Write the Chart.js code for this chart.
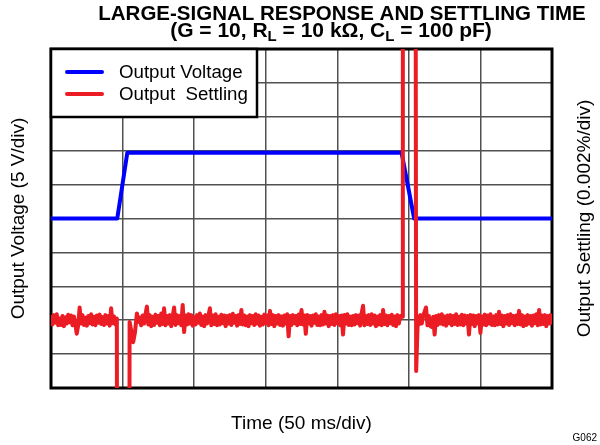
<!DOCTYPE html>
<html>
<head>
<meta charset="utf-8">
<script src="https://cdn.jsdelivr.net/npm/chart.js@4/dist/chart.umd.min.js"></script>
<style>
  html, body { margin: 0; padding: 0; background: #ffffff; }
  #wrap { width: 600px; height: 445px; }
</style>
</head>
<body>
<div id="wrap"><canvas id="c" width="600" height="445"></canvas></div>
<script>
// ---- Data (time in ms, output voltage in V, settling error in ppm; 20 ppm = 0.002 %) ----
const titleLine1 = 'LARGE-SIGNAL RESPONSE AND SETTLING TIME';
const titleLine2 = [
  { t: '(G = 10, R' }, { t: 'L', sub: true }, { t: ' = 10 kΩ, C' }, { t: 'L', sub: true }, { t: ' = 100 pF)' }
];
const seriesNames = ['Output Voltage', 'Output  Settling'];
const xTitle = 'Time (50 ms/div)';
const yLeftTitle = 'Output Voltage (5 V/div)';
const yRightTitle = 'Output Settling (0.002%/div)';
const figureId = 'G062';

const timeRange = [0, 350];        // 7 divisions of 50 ms
const voltRange = [-25, 25];       // 10 divisions of 5 V
const settleRange = [-100, 100];   // 10 divisions of 20 ppm (0.002 %)

const voltTime  = [0, 46.3, 53.3, 244.9, 253.7, 350];
const voltValue = [0, 0, 9.7, 9.7, 0, 0];

const settleTime = [
  0, 1, 2, 3, 4, 5, 6, 7, 8, 9, 10, 11, 12, 13, 14, 15, 16, 17, 18, 19, 20, 21, 22, 23,
  24, 25, 26, 27, 28, 29, 30, 31, 32, 33, 34, 35, 36, 37, 38, 39, 40, 41, 42, 43, 44, 45, 46,
  46.5, 54.3, 54.9, 56, 57.4, 58.7, 60, 61,
  62, 63, 64, 65, 66, 67, 68, 69, 70, 71, 72, 73, 74, 75, 76, 77, 78, 79, 80, 81,
  82, 83, 84, 85, 86, 87, 88, 89, 90, 91, 92, 93, 94, 95, 96, 97, 98, 99, 100, 101,
  102, 103, 104, 105, 106, 107, 108, 109, 110, 111, 112, 113, 114, 115, 116, 117, 118, 119, 120, 121,
  122, 123, 124, 125, 126, 127, 128, 129, 130, 131, 132, 133, 134, 135, 136, 137, 138, 139, 140, 141,
  142, 143, 144, 145, 146, 147, 148, 149, 150, 151, 152, 153, 154, 155, 156, 157, 158, 159, 160, 161,
  162, 163, 164, 165, 166, 167, 168, 169, 170, 171, 172, 173, 174, 175, 176, 177, 178, 179, 180, 181,
  182, 183, 184, 185, 186, 187, 188, 189, 190, 191, 192, 193, 194, 195, 196, 197, 198, 199, 200, 201,
  202, 203, 204, 205, 206, 207, 208, 209, 210, 211, 212, 213, 214, 215, 216, 217, 218, 219, 220, 221,
  222, 223, 224, 225, 226, 227, 228, 229, 230, 231, 232, 233, 234, 235, 236, 237, 238, 239, 240, 241,
  242, 243, 244,
  245.4, 245.8, 254.2, 255.1, 256.3,
  257, 258, 259, 260, 261, 262, 263, 264, 265, 266, 267, 268, 269, 270, 271, 272, 273, 274, 275, 276,
  277, 278, 279, 280, 281, 282, 283, 284, 285, 286, 287, 288, 289, 290, 291, 292, 293, 294, 295, 296,
  297, 298, 299, 300, 301, 302, 303, 304, 305, 306, 307, 308, 309, 310, 311, 312, 313, 314, 315, 316,
  317, 318, 319, 320, 321, 322, 323, 324, 325, 326, 327, 328, 329, 330, 331, 332, 333, 334, 335, 336,
  337, 338, 339, 340, 341, 342, 343, 344, 345, 346, 347, 348, 349, 350
];
const settleValue = [
  -58, -62.5, -57, -61.5, -56.5, -63, -59, -62.8, -57.5, -63.5, -58.2, -62, -56.8, -61.2, -57.2, -63,
  -57.8, -62.5, -68, -63, -52.5, -62, -57, -62.8, -58.5, -63.2, -57.5, -61.8, -56.5, -62.5, -58, -63,
  -57.2, -61.5, -56.7, -62.2, -58.2, -62.8, -57, -62, -57.5, -63.2, -53, -61.8, -57.8, -62.5, -59,
  -500, -500, -61, -66, -73, -67, -56, -61,
  -58.5, -63, -57.2, -62, -56.5, -52, -62.5, -57, -63.5, -58,
  -62.8, -56.7, -61.5, -57.5, -63, -56, -62.2, -53, -63, -57.5,
  -62, -57, -63.5, -57.8, -52.5, -62.8, -57, -61.8, -57.5, -63,
  -51, -67, -57.2, -62.5, -56.5, -62, -57, -63.2, -58.2, -62.5,
  -57, -61.5, -56, -62.8, -57.8, -63.5, -57, -62, -57.5, -53,
  -63, -57.2, -62.2, -56.5, -63, -58, -62.5, -56.8, -61.8, -57.2,
  -63.5, -57.5, -62, -57, -62.8, -56.2, -61.5, -57.5, -63.2, -57,
  -62.2, -54, -62.5, -57.2, -63, -57.8, -63.5, -57, -61.8, -57.5,
  -62.8, -56.5, -62, -57.2, -63.2, -58, -62.5, -56.7, -61.5, -57.2,
  -63, -54.5, -62.2, -57, -63.5, -57.5, -62, -57, -62.8, -57.8,
  -63.2, -57.2, -62, -56.5, -69.5, -57.5, -62.8, -57, -61.8, -57.5,
  -63, -56.7, -62.2, -54, -62.5, -57.2, -68, -57, -62, -57.5,
  -63.2, -57.2, -61.5, -56.5, -62.8, -57.8, -63, -57, -62.5, -55,
  -62, -57.2, -63.5, -57.5, -62.2, -57, -62.8, -56.5, -61.8, -57.5,
  -63, -57.2, -68.5, -57, -62, -56.5, -62.8, -57.8, -63, -57.5,
  -62.5, -57, -61.8, -57.2, -63.2, -56, -51.5, -63, -57.5, -62.2,
  -57, -62.8, -56.5, -62, -57.2, -63.5, -57.8, -62.5, -57, -63,
  -54, -62.2, -57.2, -63, -57.5, -61.8, -56.8, -62.8, -57.8, -63.5,
  -57, -62, -57.5,
  -58, 500, 500, -90, -58,
  -62.5, -57, -62, -57.2, -55, -52.5, -63, -57.5, -63.5, -64,
  -58, -68.5, -57.5, -62.8, -57, -62, -56.5, -62.5, -57.8, -63.2,
  -57.2, -61.8, -57, -63, -57.5, -62.2, -56.5, -62.8, -58, -62.5,
  -56.8, -63, -57.2, -62, -57.5, -68.5, -57, -62.2, -57.2, -63.5,
  -57.5, -61.8, -57, -67.5, -57.8, -62.5, -56.7, -63, -57.2, -62,
  -56.5, -62.8, -57.8, -63, -57, -62.5, -55, -62.2, -57.2, -63.5,
  -57.5, -62, -57, -62.8, -56.5, -61.8, -57.5, -63, -57.2, -62.2,
  -54.5, -62.5, -57, -63.5, -57.8, -62.8, -57, -62, -57.5, -63.2,
  -57.2, -61.8, -56.5, -63, -54, -62.5, -57.2, -62.2, -57, -63.5,
  -57.5, -62, -57, -61.5
];

const voltColor = '#0000ff';
const settleColor = '#ec1c24';
const FONT = '"Liberation Sans", Arial, Helvetica, sans-serif';

const annotations = {
  id: 'annotations',
  beforeDatasetsDraw(chart) {
    const { ctx, chartArea: a } = chart;
    ctx.save();
    ctx.strokeStyle = '#000';
    ctx.lineWidth = 3;
    ctx.strokeRect(a.left, a.top, a.right - a.left, a.bottom - a.top);
    ctx.restore();
  },
  afterDraw(chart) {
    const { ctx, chartArea: a } = chart;
    ctx.save();
    // legend box
    const lx = a.left, ly = a.top, lw = 206, lh = 68;
    ctx.fillStyle = '#fff';
    ctx.fillRect(lx, ly, lw, lh);
    ctx.strokeStyle = '#000';
    ctx.lineWidth = 2.5;
    ctx.strokeRect(lx, ly, lw, lh);
    const ds = chart.data.datasets;
    const rows = [ds.find(d => d.label === seriesNames[0]), ds.find(d => d.label === seriesNames[1])];
    rows.forEach((d, i) => {
      const y = ly + 23 + i * 22;
      ctx.strokeStyle = d.borderColor;
      ctx.lineWidth = 4;
      ctx.lineCap = 'round';
      ctx.beginPath();
      ctx.moveTo(lx + 16, y);
      ctx.lineTo(lx + 51, y);
      ctx.stroke();
      ctx.fillStyle = '#000';
      ctx.font = '18.7px ' + FONT;
      ctx.textBaseline = 'middle';
      ctx.textAlign = 'left';
      ctx.fillText(d.label, lx + 68, y + 1);
    });

    // title
    ctx.fillStyle = '#000';
    ctx.textBaseline = 'alphabetic';
    ctx.font = 'bold 20.5px ' + FONT;
    ctx.textAlign = 'center';
    ctx.fillText(titleLine1, 342, 20);
    ctx.textAlign = 'left';
    const mainF = 'bold 21px ', subF = 'bold 15px ';
    let total = 0;
    titleLine2.forEach(s => {
      ctx.font = (s.sub ? subF : mainF) + FONT;
      total += ctx.measureText(s.t).width;
    });
    let x = 331 - total / 2;
    titleLine2.forEach(s => {
      ctx.font = (s.sub ? subF : mainF) + FONT;
      ctx.fillText(s.t, x, s.sub ? 41 : 37);
      x += ctx.measureText(s.t).width;
    });

    // axis titles
    ctx.font = '19px ' + FONT;
    ctx.textAlign = 'center';
    ctx.textBaseline = 'middle';
    ctx.fillText(xTitle, (a.left + a.right) / 2, 424);
    const cy = (a.top + a.bottom) / 2;
    ctx.save();
    ctx.translate(19, cy);
    ctx.rotate(-Math.PI / 2);
    ctx.fillText(yLeftTitle, 0, 0);
    ctx.restore();
    ctx.save();
    ctx.translate(585, cy);
    ctx.rotate(-Math.PI / 2);
    ctx.fillText(yRightTitle, 0, 0);
    ctx.restore();

    ctx.font = '10px ' + FONT;
    ctx.textAlign = 'right';
    ctx.fillText(figureId, 597, 438);
    ctx.restore();
  }
};

const gridStyle = { color: '#505050', lineWidth: 1.5, drawTicks: false };

new Chart(document.getElementById('c'), {
  type: 'line',
  data: {
    datasets: [
      {
        label: seriesNames[1],
        data: settleTime.map((t, i) => ({ x: t, y: settleValue[i] })),
        yAxisID: 'y2',
        borderColor: settleColor,
        borderWidth: 4,
        borderJoinStyle: 'round',
        borderCapStyle: 'round',
        pointRadius: 0,
        tension: 0,
        order: 0
      },
      {
        label: seriesNames[0],
        data: voltTime.map((t, i) => ({ x: t, y: voltValue[i] })),
        yAxisID: 'y',
        borderColor: voltColor,
        borderWidth: 4,
        borderJoinStyle: 'round',
        pointRadius: 0,
        tension: 0,
        order: 1
      }
    ]
  },
  options: {
    responsive: false,
    animation: false,
    events: [],
    layout: { padding: { left: 51, right: 48, top: 49, bottom: 57 } },
    plugins: { legend: { display: false }, title: { display: false }, tooltip: { enabled: false } },
    scales: {
      x: {
        type: 'linear', min: timeRange[0], max: timeRange[1],
        ticks: { display: false, stepSize: 50 },
        grid: gridStyle,
        border: { display: false }
      },
      y: {
        position: 'left', min: voltRange[0], max: voltRange[1],
        ticks: { display: false, stepSize: 5 },
        grid: gridStyle,
        border: { display: false }
      },
      y2: {
        position: 'right', min: settleRange[0], max: settleRange[1],
        ticks: { display: false, stepSize: 20 },
        grid: { display: false, drawTicks: false },
        border: { display: false }
      }
    }
  },
  plugins: [annotations]
});
</script>
</body>
</html>
